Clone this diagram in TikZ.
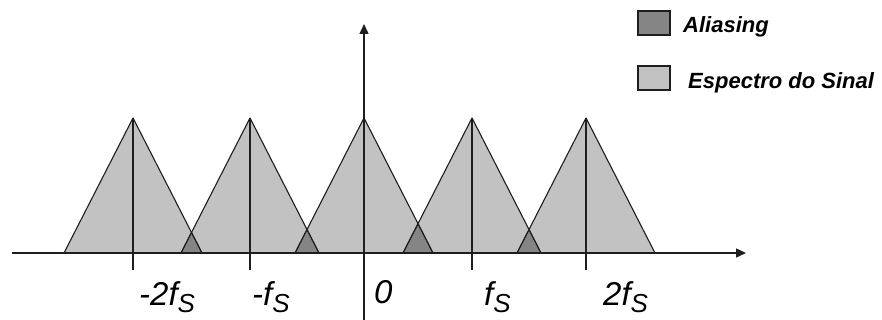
\documentclass[tikz,border=0pt]{standalone}
\usepackage{fontspec}
\setmainfont{Liberation Sans}
\usetikzlibrary{arrows.meta, positioning}
\definecolor{specfill}{HTML}{C2C2C2}
\definecolor{aliasfill}{HTML}{858585}
\definecolor{edgeline}{HTML}{1E1E1E}
\newcommand{\fsub}[1]{\textit{#1f}\raisebox{-7pt}{\fontsize{26}{26}\selectfont\itshape S}}
\tikzset{
  spec/.style    = {fill=specfill},
  alias/.style   = {fill=aliasfill, draw=edgeline, line width=0.9pt, line join=round},
  edge/.style    = {draw=edgeline, line width=1.1pt, line join=round},
  axis/.style    = {draw=edgeline, line width=1.4pt, -{Triangle[length=10pt, width=9pt]}},
  peakline/.style= {draw=edgeline, line width=1.2pt},
  axlab/.style   = {anchor=base west, inner sep=0pt, font=\fontsize{33}{33}\selectfont\itshape},
  keybox/.style  = {rectangle, draw=edgeline, line width=1.2pt, minimum width=32pt,
                    minimum height=24pt, inner sep=0pt},
  keylab/.style  = {anchor=base west, inner sep=0pt, font=\fontsize{22}{22}\selectfont\bfseries\itshape},
}

\begin{document}
\begin{tikzpicture}[x=1pt, y=-1pt]
  \useasboundingbox (0,0) rectangle (882,320);
  % spectrum replicas
  \foreach \p in {133,250,364,472,586}{
    \fill[spec] (\p-69,253) -- (\p,118) -- (\p+69,253) -- cycle;
  }
  % overlap regions
  \foreach \a/\b in {133/250,250/364,364/472,472/586}{
    \draw[alias] (\b-69,253) -- (intersection of {\a,118}--{\a+69,253} and {\b,118}--{\b-69,253}) -- (\a+69,253) -- cycle;
  }
  \foreach \p in {133,250,364,472,586}{
    \draw[edge] (\p-69,253) -- (\p,118) -- (\p+69,253);
    \draw[peakline] (\p,118) -- (\p,270);
  }
  % axes
  \coordinate (xstart) at (12,253);
  \coordinate (xend) at (746,253);
  \coordinate (ystart) at (364,320);
  \coordinate (yend) at (364,24);
  \draw[axis] (xstart) -- (xend);
  \draw[axis] (ystart) -- (yend);
  % frequency labels
  \node[axlab] (lm2) at (139,305) {\fsub{-2}};
  \node[axlab] (lm1) at (252,305) {\fsub{-}};
  \node[axlab] (l0)  at (374,303) {0};
  \node[axlab] (lp1) at (484,305) {\fsub{}};
  \node[axlab] (lp2) at (603,305) {\fsub{2}};
  % legend
  \node[keybox, fill=aliasfill] (kalias) at (654,23) {};
  \node[keybox, fill=specfill]  (kspec)  at (654,78) {};
  \node[keylab] (talias) at (683,33) {Aliasing};
  \node[keylab] (tspec)  at (688,89) {Espectro do Sinal};
\end{tikzpicture}
\end{document}
